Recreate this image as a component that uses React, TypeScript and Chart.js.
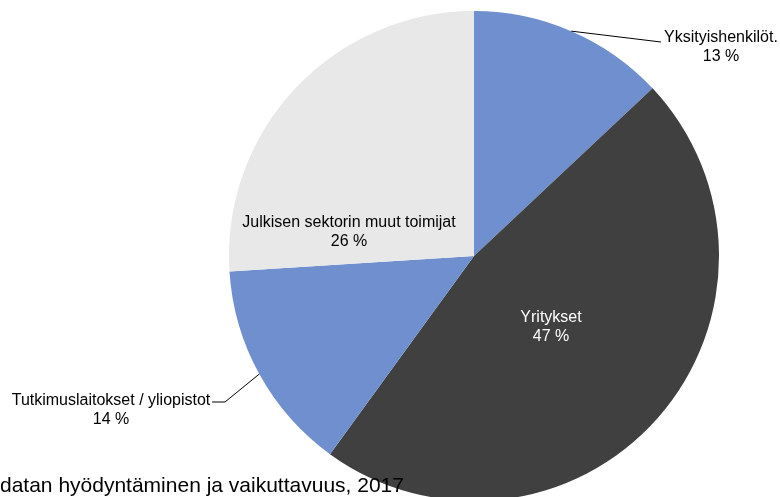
import React, { useEffect, useRef } from "react";
import { Chart, registerables } from "chart.js";

Chart.register(...registerables);

const categories = [
  "Yksityishenkilöt.",
  "Yritykset",
  "Tutkimuslaitokset / yliopistot",
  "Julkisen sektorin muut toimijat",
];
const shares = [13, 47, 14, 26];
const sliceColors = ["#6F8FCF", "#404040", "#6F8FCF", "#E8E8E8"];
const labelColors = ["#000000", "#FFFFFF", "#000000", "#000000"];
const footerText = "datan hyödyntäminen ja vaikuttavuus, 2017";

const FONT = '"Liberation Sans", Arial, sans-serif';

// label layout: center x, first baseline y, leader line path (from arc edge midpoint)
type LabelLayout = { cx: number; by: number; leader?: number[][] };
const labelLayout: LabelLayout[] = [
  { cx: 721, by: 42, leader: [[661, 42]] },
  { cx: 551, by: 322 },
  { cx: 111, by: 405, leader: [[225, 402], [212, 402]] },
  { cx: 349, by: 227 },
];

const labelPlugin = {
  id: "pieLabels",
  afterDatasetsDraw(chart: any) {
    const ctx = chart.ctx;
    const meta = chart.getDatasetMeta(0);
    ctx.save();
    ctx.font = `16px ${FONT}`;
    ctx.textAlign = "center";
    ctx.textBaseline = "alphabetic";
    meta.data.forEach((arc: any, i: number) => {
      const p = arc.getProps(["x", "y", "startAngle", "endAngle", "outerRadius"], true);
      const mid = (p.startAngle + p.endAngle) / 2;
      const lay = labelLayout[i];
      if (lay.leader) {
        const ex = p.x + Math.cos(mid) * p.outerRadius;
        const ey = p.y + Math.sin(mid) * p.outerRadius;
        ctx.strokeStyle = "#000000";
        ctx.lineWidth = 1;
        ctx.beginPath();
        ctx.moveTo(ex, ey);
        lay.leader.forEach((pt) => ctx.lineTo(pt[0], pt[1]));
        ctx.stroke();
      }
      ctx.fillStyle = labelColors[i];
      ctx.fillText(categories[i], lay.cx, lay.by);
      ctx.fillText(`${shares[i]} %`, lay.cx, lay.by + 19);
    });
    ctx.font = `21px ${FONT}`;
    ctx.textAlign = "left";
    ctx.fillStyle = "#000000";
    ctx.fillText(footerText, 0, 492);
    ctx.restore();
  },
};

export default function App() {
  const ref = useRef<HTMLCanvasElement>(null);
  useEffect(() => {
    if (!ref.current) return;
    const chart = new Chart(ref.current, {
      type: "pie",
      data: {
        labels: categories,
        datasets: [
          {
            data: shares,
            backgroundColor: sliceColors,
            borderWidth: 0,
          },
        ],
      },
      options: {
        animation: false,
        responsive: false,
        maintainAspectRatio: false,
        layout: { padding: { top: 11, left: 229, right: 61, bottom: 19 } },
        plugins: {
          legend: { display: false },
          tooltip: { enabled: false },
          title: { display: false },
        },
      },
      plugins: [labelPlugin],
    });
    return () => chart.destroy();
  }, []);
  return (
    <div
      style={{
        position: "fixed",
        left: 0,
        top: 0,
        width: 780,
        height: 497,
        overflow: "hidden",
        background: "#ffffff",
      }}
    >
      <canvas ref={ref} width={780} height={520} style={{ display: "block" }} />
    </div>
  );
}
